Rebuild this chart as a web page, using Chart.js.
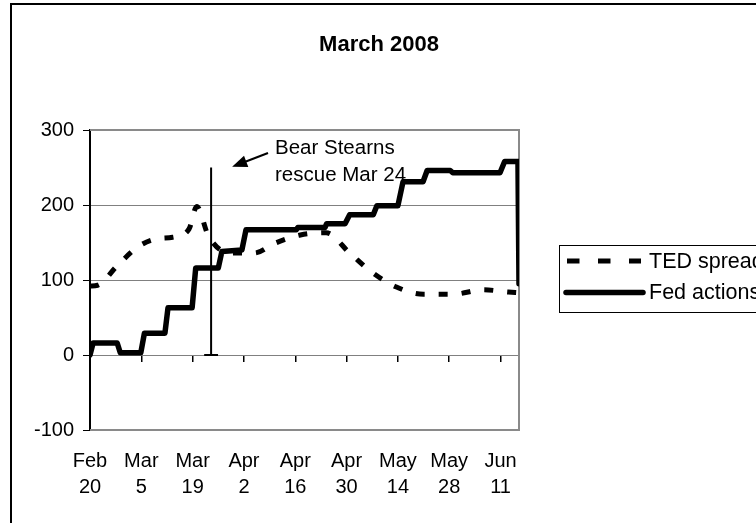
<!DOCTYPE html>
<html lang="en">
<head>
  <meta charset="UTF-8" />
  <title>March 2008</title>
  <script src="https://cdn.jsdelivr.net/npm/chart.js@4.4.1/dist/chart.umd.min.js"></script>
  <style>
    html, body { margin: 0; padding: 0; background: #fff; overflow: hidden; }
    #wrap { width: 756px; height: 523px; }
  </style>
</head>
<body>
  <div id="wrap"><canvas id="tedChart" width="756" height="523"></canvas></div>

  <script>
    // x = trading days after Feb 20 2008, a tick every 10 days (2 weeks)
    const tickMonths = ["Feb", "Mar", "Mar", "Apr", "Apr", "Apr", "May", "May", "Jun"];
    const tickDays = ["20", "5", "19", "2", "16", "30", "14", "28", "11"];

    const tedDays = [0, 1.5, 5.3, 9.5, 13.1, 16.1, 19.3, 20.8, 23, 25.5, 28.5, 32, 36, 41, 46, 50.6, 55, 59.6, 65, 70.8, 76.6, 81.5, 83.6];
    const tedValues = [92, 93, 119, 145, 155, 157, 168, 198, 160, 140, 136, 136, 149, 160, 163, 136, 110, 91, 81, 81, 87, 84, 83];

    const fedDays = [0, 0.6, 5.3, 5.9, 9.9, 10.6, 14.6, 15.2, 19.9, 20.6, 25, 25.7, 29.6, 30.4, 40.2, 40.5, 45.8, 46.1, 49.7, 50.6, 55.2, 55.9, 60, 61, 64.9, 65.7, 70.2, 70.7, 79.9, 80.8, 83.4, 83.6];
    const fedValues = [0, 16, 16, 3, 3, 29, 29, 63, 63, 116, 116, 138, 140, 167, 167, 170, 170, 175, 175, 187, 187, 199, 199, 231, 231, 246, 246, 243, 243, 258, 258, 95];

    const rescueDay = 23.6;
    const rescueTop = 250;

    const FONT = '"Liberation Sans", Arial, sans-serif';
    const xMax = 83.6;

    function points(xs, ys) {
      return xs.map((x, i) => ({ x: x, y: ys[i] }));
    }

    // frame, plot border, title, note and legend
    const decor = {
      id: "decor",
      beforeDatasetsDraw(chart) {
        const { ctx, chartArea: a } = chart;
        ctx.save();
        ctx.strokeStyle = "#8a8a8a";
        ctx.lineWidth = 2;
        ctx.beginPath();
        ctx.moveTo(a.left, a.top);
        ctx.lineTo(a.right, a.top);
        ctx.lineTo(a.right, a.bottom);
        ctx.lineTo(a.left, a.bottom);
        ctx.stroke();
        ctx.restore();
      },
      afterDraw(chart) {
        const { ctx } = chart;
        const xs = chart.scales.x, ys = chart.scales.y;
        ctx.save();
        // outer frame
        ctx.strokeStyle = "#000";
        ctx.lineWidth = 2;
        ctx.beginPath();
        ctx.moveTo(11, 523);
        ctx.lineTo(11, 4);
        ctx.lineTo(756, 4);
        ctx.stroke();

        // title
        ctx.fillStyle = "#000";
        ctx.font = "bold 22px " + FONT;
        ctx.textAlign = "center";
        ctx.textBaseline = "middle";
        ctx.fillText("March 2008", 379, 45);

        // note with arrow
        ctx.font = "20.5px " + FONT;
        ctx.textAlign = "left";
        ctx.textBaseline = "alphabetic";
        ctx.fillText("Bear Stearns", 275, 154);
        ctx.fillText("rescue Mar 24", 275, 181);
        const tipX = xs.getPixelForValue(27.7), tipY = ys.getPixelForValue(251);
        const tailX = 268, tailY = 153;
        const ang = Math.atan2(tipY - tailY, tipX - tailX);
        ctx.lineWidth = 2;
        ctx.beginPath();
        ctx.moveTo(tailX, tailY);
        ctx.lineTo(tipX - 12 * Math.cos(ang), tipY - 12 * Math.sin(ang));
        ctx.stroke();
        ctx.beginPath();
        ctx.moveTo(tipX, tipY);
        ctx.lineTo(tipX - 15 * Math.cos(ang) + 6 * Math.sin(ang), tipY - 15 * Math.sin(ang) - 6 * Math.cos(ang));
        ctx.lineTo(tipX - 15 * Math.cos(ang) - 6 * Math.sin(ang), tipY - 15 * Math.sin(ang) + 6 * Math.cos(ang));
        ctx.closePath();
        ctx.fill();

        // legend box
        ctx.lineWidth = 1;
        ctx.strokeRect(559.5, 245.5, 220, 67);
        const rows = chart.data.datasets.filter(d => d.label);
        rows.forEach((ds, i) => {
          const y = 261 + i * 31.5;
          ctx.strokeStyle = ds.borderColor;
          ctx.lineWidth = ds.borderWidth;
          ctx.setLineDash(ds.legendDash || []);
          ctx.lineCap = ds.legendDash ? "butt" : "round";
          ctx.beginPath();
          ctx.moveTo(ds.legendDash ? 567 : 566, y);
          ctx.lineTo(ds.legendDash ? 641 : 643, y);
          ctx.stroke();
          ctx.setLineDash([]);
          ctx.font = "21.5px " + FONT;
          ctx.textBaseline = "middle";
          ctx.fillText(ds.label, 649, y + 1);
        });
        ctx.restore();
      }
    };

    const config = {
      type: "line",
      data: {
        datasets: [
          {
            label: "TED spread",
            data: points(tedDays, tedValues),
            borderColor: "#000",
            borderWidth: 5,
            borderDash: [9, 14],
            legendDash: [12.5, 18.5],
            borderCapStyle: "butt",
            cubicInterpolationMode: "monotone",
            pointRadius: 0,
            fill: false,
          },
          {
            label: "Fed actions",
            data: points(fedDays, fedValues),
            borderColor: "#000",
            borderWidth: 5.5,
            borderJoinStyle: "round",
            borderCapStyle: "round",
            tension: 0,
            pointRadius: 0,
            fill: false,
          },
          {
            label: "",
            data: [
              { x: rescueDay - 1.35, y: 0 },
              { x: rescueDay + 1.35, y: 0 },
              { x: rescueDay, y: 0 },
              { x: rescueDay, y: rescueTop },
            ],
            borderColor: "#000",
            borderWidth: 2,
            tension: 0,
            pointRadius: 0,
            fill: false,
          },
        ],
      },
      options: {
        responsive: false,
        animation: false,
        layout: { padding: { top: 130, right: 237, bottom: 0, left: 0 } },
        plugins: {
          legend: { display: false },
          title: { display: false },
          tooltip: { enabled: false },
        },
        scales: {
          x: {
            type: "linear",
            position: { y: 0 },
            min: 0,
            max: xMax,
            ticks: { display: false, stepSize: 10, includeBounds: false },
            grid: { drawOnChartArea: false, tickLength: 6, color: "#000", lineWidth: 1.5 },
            border: { color: "#808080", width: 1 },
          },
          xl: {
            type: "linear",
            position: "bottom",
            min: 0,
            max: xMax,
            ticks: {
              stepSize: 10,
              includeBounds: false,
              autoSkip: false,
              maxRotation: 0,
              padding: 18,
              color: "#000",
              font: { family: FONT, size: 20, lineHeight: 1.3 },
              callback: (v) => {
                const i = Math.round(v / 10);
                return [tickMonths[i], tickDays[i]];
              },
            },
            grid: { display: false, drawTicks: false },
            border: { display: false },
            afterFit: (s) => { s.height = 93; },
          },
          y: {
            min: -100,
            max: 300,
            ticks: { stepSize: 100, padding: 9, color: "#000", font: { family: FONT, size: 20 } },
            grid: { color: "#808080", lineWidth: 1, tickLength: 7, tickColor: "#000" },
            border: { color: "#000", width: 2 },
            afterFit: (s) => { s.width = 90; },
          },
        },
      },
      plugins: [decor],
    };

    const tedChart = new Chart(document.getElementById("tedChart").getContext("2d"), config);
  </script>
</body>
</html>
